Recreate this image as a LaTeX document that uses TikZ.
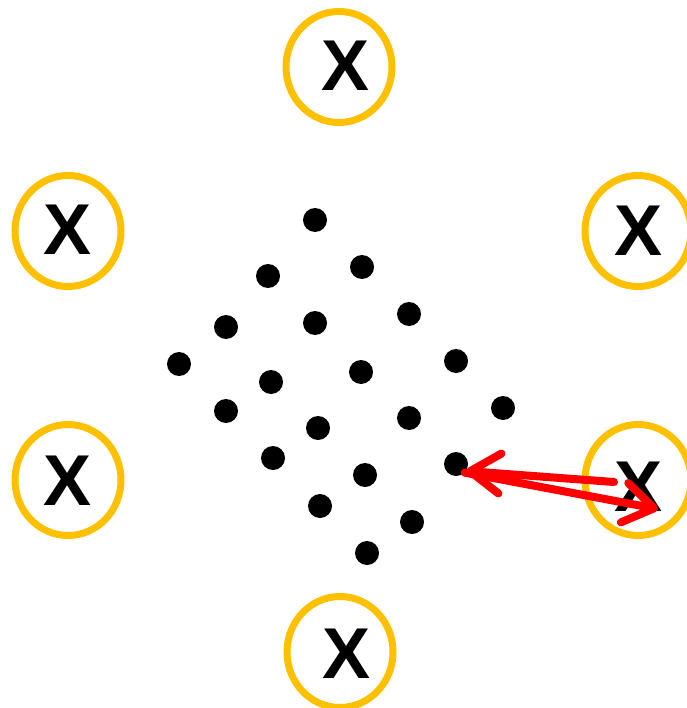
\documentclass[tikz,border=0pt]{standalone}
\usepackage{fontspec}
\setmainfont{Liberation Sans}
\usetikzlibrary{shapes.geometric,arrows.meta}
\definecolor{ringgold}{RGB}{255,192,0}
\definecolor{arrowred}{RGB}{255,0,0}
\tikzset{
  ring/.style={ellipse, draw=ringgold, line width=7pt, minimum width=106pt, minimum height=111pt, inner sep=0pt},
  xmark/.style={font=\fontsize{72}{72}\selectfont\bfseries, inner sep=0pt, text=black},
  dotnode/.style={circle, fill=black, minimum size=24pt, inner sep=0pt},
  redarrow/.style={draw=arrowred, line width=8pt, line cap=round,
    -{Straight Barb[length=30pt,width=40pt,round]}}
}
\begin{document}
\begin{tikzpicture}[x=1pt,y=-1pt]
\useasboundingbox (0,0) rectangle (686,708);
% rings
\node[ring] (rt)  at (339,67)  {};
\node[ring] (rlt) at (68,231)  {};
\node[ring] (rrt) at (638,231) {};
\node[ring] (rlb) at (68,480)  {};
\node[ring] (rrb) at (638,480) {};
\node[ring] (rb)  at (340,652) {};
% labels
\node[xmark] (xt)  at (346,66)  {X};
\node[xmark] (xlt) at (68,230)  {X};
\node[xmark] (xrt) at (638,231) {X};
\node[xmark] (xlb) at (68,481)  {X};
\node[xmark] (xrb) at (638,487) {X};
\node[xmark] (xb)  at (347,654) {X};
% dots
\node[dotnode] (d1)  at (315,220) {};
\node[dotnode] (d2)  at (362,267) {};
\node[dotnode] (d3)  at (268,276) {};
\node[dotnode] (d4)  at (409,314) {};
\node[dotnode] (d5)  at (226,327) {};
\node[dotnode] (d6)  at (315,323) {};
\node[dotnode] (d7)  at (456,361) {};
\node[dotnode] (d8)  at (179,364) {};
\node[dotnode] (d9)  at (361,372) {};
\node[dotnode] (d10) at (271,382) {};
\node[dotnode] (d11) at (503,408) {};
\node[dotnode] (d12) at (226,411) {};
\node[dotnode] (d13) at (409,418) {};
\node[dotnode] (d14) at (318,428) {};
\node[dotnode] (d15) at (456,464) {};
\node[dotnode] (d16) at (273,458) {};
\node[dotnode] (d17) at (365,475) {};
\node[dotnode] (d18) at (320,506) {};
\node[dotnode] (d19) at (412,522) {};
\node[dotnode] (d20) at (367,553) {};
% red arrows
\coordinate (a1) at (614,482);
\coordinate (a2) at (658,509);
\draw[redarrow] (a1) -- (d15.-35);
\draw[redarrow] (d15.-45) -- (a2);
\end{tikzpicture}
\end{document}
